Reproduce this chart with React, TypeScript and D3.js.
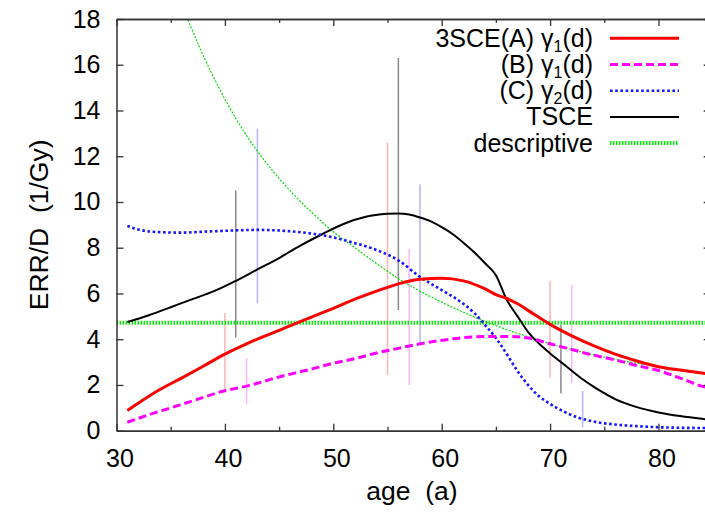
import React, { useEffect, useRef } from 'react';
import * as d3 from 'd3';

// curves as [age, ERR/D]
const curveA: [number, number][] = [
  [31, 0.88], [32, 1.2], [34, 1.8], [36, 2.3], [38, 2.82], [40, 3.35], [42, 3.8], [44, 4.2],
  [46, 4.58], [48, 4.97], [50, 5.35], [52, 5.75], [54, 6.1], [56, 6.42], [58, 6.62], [60, 6.66],
  [62, 6.55], [64, 6.2], [65, 5.95], [66, 5.78], [67, 5.55], [68, 5.25], [70, 4.65], [72, 4.15],
  [74, 3.72], [76, 3.35], [78, 3.05], [80, 2.8], [82, 2.65], [84, 2.52], [85, 2.47],
];
const curveB: [number, number][] = [
  [31, 0.37], [33, 0.7], [35, 1.0], [37, 1.3], [40, 1.75], [42, 1.95], [45, 2.35], [48, 2.7],
  [50, 2.95], [52, 3.15], [54, 3.4], [56, 3.6], [58, 3.8], [60, 3.95], [62, 4.07], [64, 4.12],
  [66, 4.12], [68, 4.05], [70, 3.8], [72, 3.55], [74, 3.3], [76, 3.1], [78, 2.85], [80, 2.63],
  [82, 2.3], [84, 1.95], [85, 1.85],
];
const curveC: [number, number][] = [
  [31, 8.95], [32, 8.8], [34, 8.68], [36, 8.66], [38, 8.7], [40, 8.74], [43, 8.78], [46, 8.72],
  [48, 8.62], [50, 8.45], [52, 8.2], [54, 7.9], [56, 7.45], [58, 6.72], [60, 6.15], [62, 5.55],
  [63, 5.15], [64, 4.62], [65, 4.05], [66, 3.35], [67, 2.6], [68, 1.98], [69, 1.5], [70, 1.17],
  [72, 0.68], [74, 0.4], [76, 0.27], [78, 0.2], [80, 0.15], [84, 0.12], [85, 0.12],
];
const curveTSCE: [number, number][] = [
  [31, 4.75], [33, 5.05], [35, 5.4], [37, 5.75], [39, 6.1], [41, 6.55], [43, 7.05], [45, 7.55],
  [47, 8.1], [49, 8.6], [51, 9.05], [53, 9.35], [55, 9.48], [56, 9.5], [57, 9.45], [58, 9.32],
  [59, 9.15], [60, 8.9], [61, 8.6], [62, 8.22], [63, 7.8], [64, 7.32], [65, 6.8], [66, 5.72],
  [67, 5.0], [68, 4.3], [69, 3.8], [70, 3.38], [71, 3.0], [72, 2.62], [73, 2.25], [74, 1.93],
  [75, 1.64], [76, 1.38], [78, 1.03], [80, 0.8], [82, 0.64], [84, 0.52], [85, 0.47],
];
const curveDescr: [number, number][] = [
  [35, 19.8], [36, 18.6], [37, 17.5], [38, 16.4], [40, 14.5], [42, 12.9], [44, 11.6],
  [46, 10.5], [48, 9.55], [50, 8.7], [52, 8.0], [54, 7.3], [56, 6.65], [58, 6.1], [60, 5.62],
  [62, 5.18], [64, 4.78], [66, 4.42], [68, 4.1], [70, 3.8], [72, 3.55], [74, 3.32], [76, 3.12],
  [78, 2.95], [80, 2.8], [82, 2.65], [84, 2.52], [85, 2.47],
];
const descrLevel = 4.72;

// error bars: [age, low, high]
const barsA: [number, number, number][] = [[40, 1.8, 5.15], [55, 2.44, 12.6], [70, 2.32, 6.56]];
const barsB: [number, number, number][] = [[42, 1.15, 3.17], [57, 2.0, 7.93], [72, 2.07, 6.37]];
const barsC: [number, number, number][] = [[43, 5.57, 13.2], [58, 3.79, 10.77], [73, 0.15, 1.74]];
const barsTSCE: [number, number, number][] = [[41, 4.07, 10.5], [56, 5.28, 16.3], [71, 1.63, 4.62]];

const xTicks = [30, 40, 50, 60, 70, 80];
const xMinorTicks = [35, 45, 55, 65, 75, 85];
const yTicks = [0, 2, 4, 6, 8, 10, 12, 14, 16, 18];

// legend label pieces: [text, subscript, text]
const legendLabels: string[][] = [
  ['3SCE(A) γ', '1', '(d)'],
  ['(B) γ', '1', '(d)'],
  ['(C) γ', '2', '(d)'],
  ['TSCE'],
  ['descriptive'],
];

const FONT = '"Liberation Sans", Arial, sans-serif';

export default function App() {
  const ref = useRef<SVGSVGElement>(null);

  useEffect(() => {
    const svg = d3.select(ref.current);
    svg.selectAll('*').remove();

    const x = d3.scaleLinear().domain([30, 85]).range([116.5, 712.7]);
    const y = d3.scaleLinear().domain([0, 18]).range([430.7, 19]);
    const [x0, x1] = x.range();
    const [y0, y1] = y.range();

    svg.append('defs').append('clipPath').attr('id', 'plot-clip')
      .append('rect').attr('x', x0).attr('y', y1).attr('width', x1 - x0).attr('height', y0 - y1);

    const plot = svg.append('g').attr('clip-path', 'url(#plot-clip)');

    const drawBars = (bars: [number, number, number][], color: string) => {
      plot.append('g').selectAll('line').data(bars).join('line')
        .attr('x1', d => x(d[0])).attr('x2', d => x(d[0]))
        .attr('y1', d => y(d[1])).attr('y2', d => y(d[2]))
        .attr('stroke', color).attr('stroke-width', 1.5);
    };
    drawBars(barsA, '#ffb4b4');
    drawBars(barsB, '#ffb4ff');
    drawBars(barsC, '#b4b4ff');
    drawBars(barsTSCE, '#888888');

    const plotLine = d3.line<[number, number]>()
      .curve(d3.curveMonotoneX)
      .x(d => x(d[0]))
      .y(d => y(d[1]));

    const styles = [
      { color: '#00ee00', width: 4, dash: '1.5,1.5' },
      { color: '#000000', width: 2, dash: null },
      { color: '#1515ff', width: 2.6, dash: '2.6,2.6' },
      { color: '#ff00ff', width: 3, dash: '8,4' },
      { color: '#ff0000', width: 3, dash: null },
    ];

    // descriptive: flat level plus the thin decaying curve
    plot.append('line')
      .attr('x1', x0).attr('x2', x1).attr('y1', y(descrLevel)).attr('y2', y(descrLevel))
      .attr('stroke', styles[0].color).attr('stroke-width', styles[0].width)
      .attr('stroke-dasharray', styles[0].dash);
    plot.append('path').datum(curveDescr)
      .attr('d', d3.line<[number, number]>().curve(d3.curveCatmullRom).x(d => x(d[0])).y(d => y(d[1])))
      .attr('fill', 'none')
      .attr('stroke', '#00dd00').attr('stroke-width', 1.2).attr('stroke-dasharray', '2,1.5');

    [curveTSCE, curveC, curveB, curveA].forEach((data, i) => {
      const s = styles[i + 1];
      plot.append('path').datum(data)
        .attr('d', plotLine).attr('fill', 'none')
        .attr('stroke', s.color).attr('stroke-width', s.width)
        .attr('stroke-dasharray', s.dash);
    });

    // axes, gnuplot style: ticks pointing inward, on all four sides
    const styleAxis = (g: d3.Selection<SVGGElement, unknown, null, undefined>) => {
      g.select('.domain').attr('stroke', '#333').attr('stroke-width', 1.5);
      g.selectAll('.tick line').attr('stroke', '#333').attr('stroke-width', 1.3);
      g.selectAll('.tick text').attr('font-size', 25).attr('font-family', FONT).attr('fill', '#000');
    };

    svg.append('g').attr('transform', `translate(0,${y0})`)
      .call(d3.axisBottom(x).tickValues(xTicks).tickSizeInner(-7).tickSizeOuter(0).tickPadding(19))
      .call(styleAxis)
      .selectAll('.tick text').attr('dx', 3);
    svg.append('g').attr('transform', `translate(0,${y0})`)
      .call(d3.axisBottom(x).tickValues(xMinorTicks).tickSizeInner(-4).tickSizeOuter(0).tickFormat(() => ''))
      .call(styleAxis);
    svg.append('g').attr('transform', `translate(0,${y1})`)
      .call(d3.axisTop(x).tickValues(xTicks).tickSizeInner(-7).tickSizeOuter(0).tickFormat(() => ''))
      .call(styleAxis);
    svg.append('g').attr('transform', `translate(0,${y1})`)
      .call(d3.axisTop(x).tickValues(xMinorTicks).tickSizeInner(-4).tickSizeOuter(0).tickFormat(() => ''))
      .call(styleAxis);
    svg.append('g').attr('transform', `translate(${x0},0)`)
      .call(d3.axisLeft(y).tickValues(yTicks).tickSizeInner(-7).tickSizeOuter(0).tickPadding(16))
      .call(styleAxis);
    svg.append('g').attr('transform', `translate(${x1},0)`)
      .call(d3.axisRight(y).tickValues(yTicks).tickSizeInner(-9).tickSizeOuter(0).tickFormat(() => ''))
      .call(styleAxis);

    // axis titles
    svg.append('text')
      .attr('x', 412).attr('y', 500)
      .attr('text-anchor', 'middle').attr('font-size', 26.5).attr('font-family', FONT)
      .attr('xml:space', 'preserve')
      .text('age  (a)');
    svg.append('text')
      .attr('transform', `translate(48,${(y0 + y1) / 2}) rotate(-90)`)
      .attr('text-anchor', 'middle').attr('font-size', 26.5).attr('font-family', FONT)
      .attr('xml:space', 'preserve')
      .text('ERR/D  (1/Gy)');

    // legend
    const legend = svg.append('g');
    legendLabels.forEach((parts, i) => {
      const ly = 38.3 + i * 26.2;
      const t = legend.append('text')
        .attr('x', 593).attr('y', ly + 8.5)
        .attr('text-anchor', 'end').attr('font-size', 25).attr('font-family', FONT);
      t.append('tspan').text(parts[0]);
      if (parts.length > 1) {
        t.append('tspan').attr('dy', 5).attr('font-size', 16).text(parts[1]);
        t.append('tspan').attr('dy', -5).text(parts[2]);
      }
      const s = styles[styles.length - 1 - i];
      legend.append('line')
        .attr('x1', 610).attr('x2', 679).attr('y1', ly).attr('y2', ly)
        .attr('stroke', s.color).attr('stroke-width', i === 4 ? 4 : s.width)
        .attr('stroke-dasharray', s.dash);
    });
  }, []);

  return (
    <svg ref={ref} width={705} height={512}
      style={{ position: 'fixed', left: 0, top: 0, background: '#fff' }} />
  );
}
